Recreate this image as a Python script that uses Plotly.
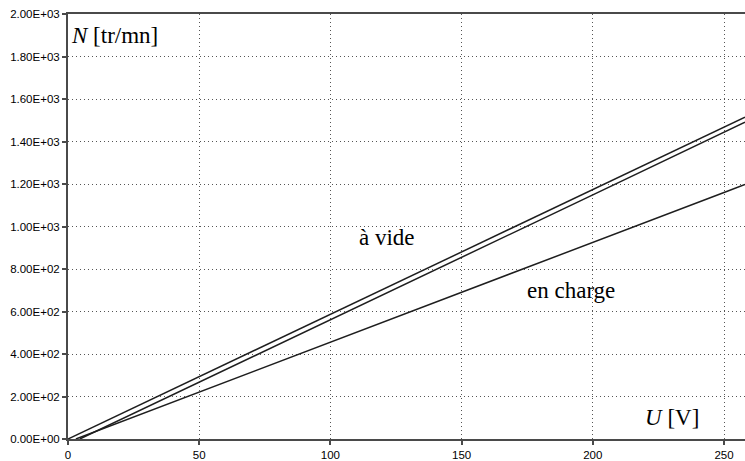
import plotly.graph_objects as go

# Data
u_vide_haut = [0, 25, 50, 75, 100, 125, 150, 175, 200, 225, 250, 258]
n_vide_haut = [0, 147, 294, 440, 587, 734, 881, 1027, 1174, 1321, 1468, 1514]

u_vide_bas = [4.5, 25, 50, 75, 100, 125, 150, 175, 200, 225, 250, 258]
n_vide_bas = [0, 120, 267, 414, 561, 708, 855, 1002, 1149, 1296, 1443, 1491]

u_charge = [3, 25, 50, 75, 100, 125, 150, 175, 200, 225, 250, 258]
n_charge = [0, 103, 220, 338, 455, 573, 690, 808, 925, 1043, 1160, 1198]

x_ticks = [0, 50, 100, 150, 200, 250]
y_ticks = [0, 200, 400, 600, 800, 1000, 1200, 1400, 1600, 1800, 2000]
y_tick_labels = ["0.00E+00", "2.00E+02", "4.00E+02", "6.00E+02", "8.00E+02",
                 "1.00E+03", "1.20E+03", "1.40E+03", "1.60E+03", "1.80E+03", "2.00E+03"]

line_style = dict(color="#1e1e1e", width=1.5)

fig = go.Figure()
for xs, ys in [(u_vide_haut, n_vide_haut), (u_vide_bas, n_vide_bas), (u_charge, n_charge)]:
    fig.add_trace(go.Scatter(x=xs, y=ys, mode="lines", line=line_style,
                             showlegend=False, hoverinfo="skip"))

ann_font = dict(family="Liberation Serif", size=23, color="black")

annotations = [
    dict(x=0.5, y=1900, text="<i>N</i> [tr/mn]", xanchor="left", yanchor="middle"),
    dict(x=230, y=100, text="<i>U</i> [V]", xanchor="center", yanchor="middle"),
    dict(x=121.7, y=948, text="à vide", xanchor="center", yanchor="middle"),
    dict(x=191.7, y=700, text="en charge", xanchor="center", yanchor="middle"),
]
for a in annotations:
    fig.add_annotation(**a, xref="x", yref="y", showarrow=False, font=ann_font)

axis_common = dict(
    showline=True, linecolor="#4a4a4a", linewidth=2,
    ticks="outside", ticklen=4, tickcolor="#4a4a4a", tickwidth=1.5,
    showgrid=True, gridcolor="#555555", gridwidth=1, griddash="1px,3px",
    zeroline=False,
    tickfont=dict(family="Liberation Sans, Arial, sans-serif", size=11.5, color="black"),
)

fig.update_xaxes(range=[0, 258], tickmode="array", tickvals=x_ticks,
                 ticktext=[str(v) for v in x_ticks], mirror=True, **axis_common)
fig.update_yaxes(range=[0, 2000], tickmode="array", tickvals=y_ticks,
                 ticktext=y_tick_labels, **axis_common)

fig.update_layout(
    width=745, height=461,
    margin=dict(l=68, r=0, t=14, b=18),
    plot_bgcolor="white", paper_bgcolor="white",
)

fig.write_html("out.html")
